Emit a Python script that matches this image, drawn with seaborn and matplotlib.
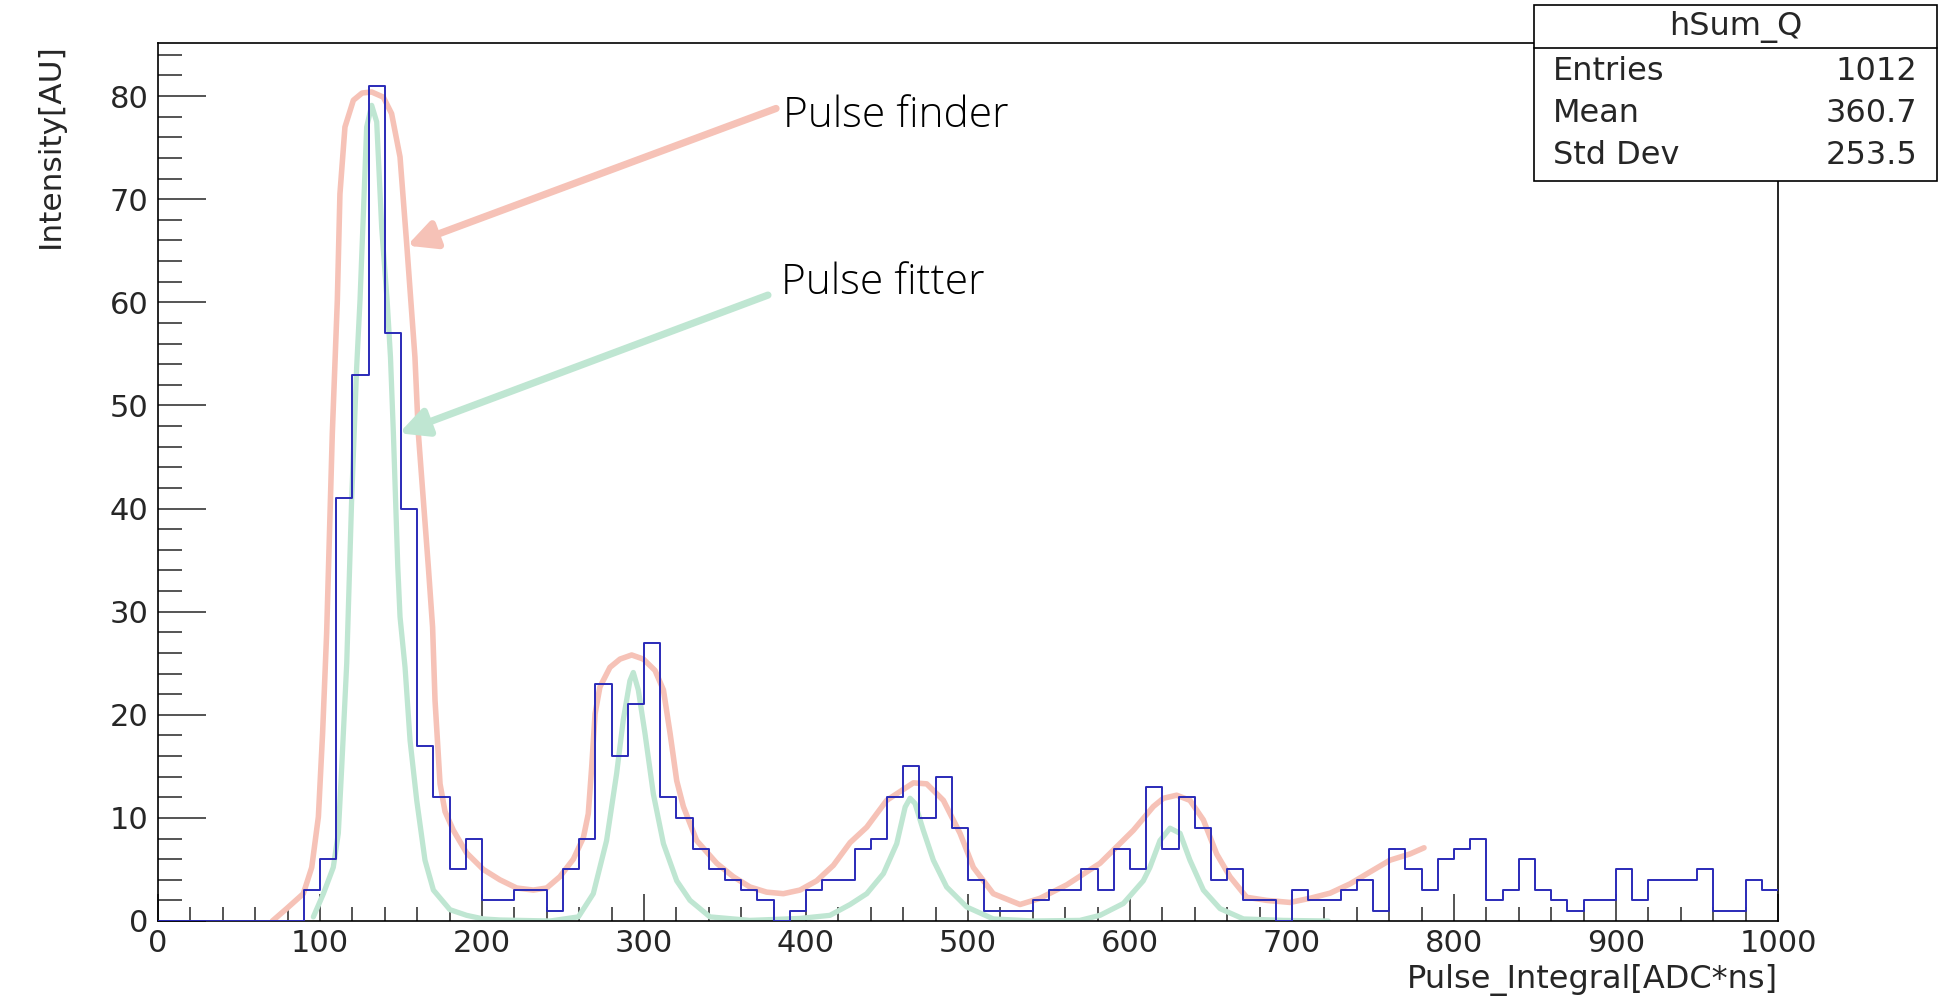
import numpy as np
import pandas as pd
import matplotlib
matplotlib.use("Agg")
import matplotlib.pyplot as plt
from matplotlib.patches import Rectangle
from matplotlib.lines import Line2D
from matplotlib.ticker import MultipleLocator
import seaborn as sns

# ---------------- data ----------------
bin_edges = list(range(0, 1001, 10))
counts = [0, 0, 0, 0, 0, 0, 0, 0, 0, 3,
          6, 41, 53, 81, 57, 40, 17, 12, 5, 8,
          2, 2, 3, 3, 1, 5, 8, 23, 16, 21,
          27, 12, 10, 7, 5, 4, 3, 2, 0, 1,
          3, 4, 4, 7, 8, 12, 15, 10, 14, 9,
          4, 1, 1, 1, 2, 3, 3, 5, 3, 7,
          5, 13, 7, 12, 9, 4, 5, 2, 2, 0,
          3, 2, 2, 3, 4, 1, 7, 5, 3, 6,
          7, 8, 2, 3, 6, 3, 2, 1, 2, 2,
          5, 2, 4, 4, 4, 5, 1, 1, 4, 3]

finder_x = [70.6, 79.4, 89.7, 94.9, 99.0, 101.6, 104.1, 107.6, 110.7, 112.3, 115.4, 120.6, 126.0,
            131.9, 139.1, 144.2, 149.4, 153.5, 158.6, 160.7, 166.9, 169.5, 171.0, 174.1, 177.2,
            182.3, 190.5, 200.8, 211.0, 221.4, 231.7, 239.9, 248.1, 256.4, 262.6, 265.6, 267.7,
            269.8, 272.8, 279.0, 285.2, 292.4, 299.6, 306.8, 312.0, 316.1, 320.2, 324.3, 332.5,
            344.9, 355.1, 365.4, 375.7, 386.0, 396.3, 406.6, 416.9, 427.2, 437.5, 449.8, 466.3,
            474.5, 484.8, 495.1, 503.3, 515.6, 532.1, 544.4, 560.9, 581.5, 602.1, 614.4, 620.6,
            628.8, 637.0, 645.3, 653.5, 661.7, 672.0, 684.4, 698.8, 711.1, 723.5, 735.8, 748.1,
            760.5, 772.8, 781.5]
finder_y = [0.0, 1.2, 2.65, 5.2, 10.1, 18.2, 27.9, 47.3, 60.2, 70.5, 77.0, 79.6, 80.3,
            80.4, 79.9, 78.3, 74.1, 65.7, 54.7, 47.3, 34.3, 28.5, 21.4, 13.3, 10.6,
            8.8, 6.6, 5.0, 4.0, 3.2, 3.0, 3.2, 4.3, 6.0, 8.1, 10.4, 14.9,
            20.1, 22.7, 24.6, 25.4, 25.8, 25.4, 24.3, 22.4, 18.2, 13.6, 11.1, 7.8,
            5.6, 4.3, 3.3, 2.8, 2.65, 3.0, 3.9, 5.4, 7.6, 9.1, 11.7, 13.4,
            13.3, 11.7, 8.5, 5.2, 2.65, 1.6, 2.2, 3.5, 5.6, 8.8, 11.1, 11.9,
            12.2, 11.7, 9.8, 6.5, 4.3, 2.3, 2.0, 1.8, 2.2, 2.7, 3.6, 4.75,
            5.9, 6.5, 7.1]

fitter_x = [95.9, 102.1, 108.2, 111.3, 113.4, 116.5, 119.5, 122.6, 124.7, 126.7, 128.8, 131.9,
            135.0, 138.1, 141.5, 143.5, 145.3, 148.0, 149.4, 152.5, 155.6, 159.7, 164.8, 170.0,
            180.2, 190.5, 200.8, 211.0, 242.0, 259.5, 268.7, 276.9, 283.1, 287.2, 291.3, 293.4,
            296.5, 300.6, 305.8, 312.0, 320.2, 328.4, 340.7, 365.4, 396.3, 414.8, 427.2, 437.5,
            447.8, 456.0, 461.2, 464.2, 467.3, 472.4, 478.6, 486.8, 499.2, 515.6, 540.3, 569.1,
            581.5, 595.9, 608.2, 612.3, 618.5, 624.7, 630.9, 637.0, 645.3, 655.6, 670.0, 694.7,
            722.4]
fitter_y = [0.4, 2.65, 5.2, 8.5, 14.9, 25.0, 40.7, 53.6, 60.2, 68.3, 77.0, 79.1,
            77.5, 67.2, 60.0, 54.7, 47.3, 34.4, 29.5, 24.6, 17.5, 11.7, 5.9, 3.0,
            1.1, 0.55, 0.2, 0.1, 0.0, 0.4, 2.65, 7.8, 14.3, 19.5, 23.3, 24.1,
            22.4, 18.2, 12.3, 7.5, 3.9, 2.0, 0.4, 0.06, 0.25, 0.55, 1.6, 2.65,
            4.6, 7.5, 11.05, 11.9, 11.4, 8.8, 5.9, 3.3, 1.36, 0.2, 0.0, 0.06,
            0.55, 1.7, 3.9, 5.2, 7.8, 9.0, 8.5, 5.9, 3.0, 1.2, 0.2, 0.06,
            0.0]

stats_title = "hSum_Q"
stats_names = ["Entries", "Mean", "Std Dev"]
stats_values = ["1012", "360.7", "253.5"]
x_label = "Pulse_Integral[ADC*ns]"
y_label = "Intensity[AU]"
finder_label = "Pulse finder"
fitter_label = "Pulse fitter"

# ---------------- style ----------------
sns.set_style("ticks")
plt.rcParams["font.family"] = ["DejaVu Sans"]

W, H = 1938, 1001
fig = plt.figure(figsize=(W / 100, H / 100), dpi=100)
ax_l, ax_r, ax_t, ax_b = 158, 1778, 43, 921
ax = fig.add_axes([ax_l / W, 1 - ax_b / H, (ax_r - ax_l) / W, (ax_b - ax_t) / H])

hist_df = pd.DataFrame({"x": [e + 5 for e in bin_edges[:-1]], "w": counts})
finder_df = pd.DataFrame({"x": finder_x, "y": finder_y})
fitter_df = pd.DataFrame({"x": fitter_x, "y": fitter_y})

pink = "#f6c2b7"
green = "#bfe6d2"
blue = "#2a2ab8"

sns.lineplot(data=finder_df, x="x", y="y", ax=ax, color=pink, lw=4.0, zorder=2)
sns.lineplot(data=fitter_df, x="x", y="y", ax=ax, color=green, lw=3.8, zorder=2)
sns.histplot(data=hist_df, x="x", weights="w", bins=bin_edges, element="step", fill=False,
             color=blue, lw=1.4, ax=ax, zorder=3)

ax.set_xlim(0, 1000)
ax.set_ylim(0, 85.15)

for s in ax.spines.values():
    s.set_linewidth(1.2)
    s.set_color("black")

ax.xaxis.set_major_locator(MultipleLocator(100))
ax.xaxis.set_minor_locator(MultipleLocator(20))
ax.yaxis.set_major_locator(MultipleLocator(10))
ax.yaxis.set_minor_locator(MultipleLocator(2))
ax.tick_params(axis="x", which="major", direction="in", length=19.5, width=1.1, pad=6, labelsize=22)
ax.tick_params(axis="x", which="minor", direction="in", length=10, width=1.1)
ax.tick_params(axis="y", which="major", direction="in", length=34.5, width=1.1, pad=7, labelsize=22)
ax.tick_params(axis="y", which="minor", direction="in", length=17.3, width=1.1)

ax.set_xlabel(x_label, fontsize=23, loc="right")
ax.xaxis.set_label_coords(1.0, -0.049)
ax.set_ylabel(y_label, fontsize=22.5, loc="top")
ax.yaxis.set_label_coords(-0.0574, 1.0)

# annotations
ax.annotate("", xy=(153.7, 65.5), xytext=(381.5, 78.8),
            arrowprops=dict(arrowstyle="-|>", lw=5.2, color=pink, mutation_scale=42,
                            shrinkA=0, shrinkB=0), zorder=4)
ax.annotate("", xy=(148.8, 47.3), xytext=(376.5, 60.7),
            arrowprops=dict(arrowstyle="-|>", lw=5.2, color=green, mutation_scale=42,
                            shrinkA=0, shrinkB=0), zorder=4)
ax.text(385.5, 78.1, finder_label, fontsize=30.5, family=["Open Sans", "DejaVu Sans"],
        fontweight="light", ha="left", va="center", color="black", zorder=5)
ax.text(384.5, 61.9, fitter_label, fontsize=30.5, family=["Open Sans", "DejaVu Sans"],
        fontweight="light", ha="left", va="center", color="black", zorder=5)

# stats box
bx0, bx1, by0, by1, bdiv = 1534, 1937, 5, 181, 48
fig.add_artist(Rectangle((bx0 / W, 1 - by1 / H), (bx1 - bx0) / W, (by1 - by0) / H,
                         transform=fig.transFigure, facecolor="white", edgecolor="black",
                         lw=1.2, zorder=10))
fig.add_artist(Line2D([bx0 / W, bx1 / W], [1 - bdiv / H, 1 - bdiv / H],
                      transform=fig.transFigure, color="black", lw=1.2, zorder=11))
fig.text((bx0 + bx1) / 2 / W, 1 - 27 / H, stats_title, ha="center", va="center",
         fontsize=23, zorder=12)
for i, (n, v) in enumerate(zip(stats_names, stats_values)):
    yy = 1 - (71 + 42 * i) / H
    fig.text(1553 / W, yy, n, ha="left", va="center", fontsize=23, zorder=12)
    fig.text(1917 / W, yy, v, ha="right", va="center", fontsize=23, zorder=12)

fig.savefig("out.png", dpi=100, facecolor="white")
